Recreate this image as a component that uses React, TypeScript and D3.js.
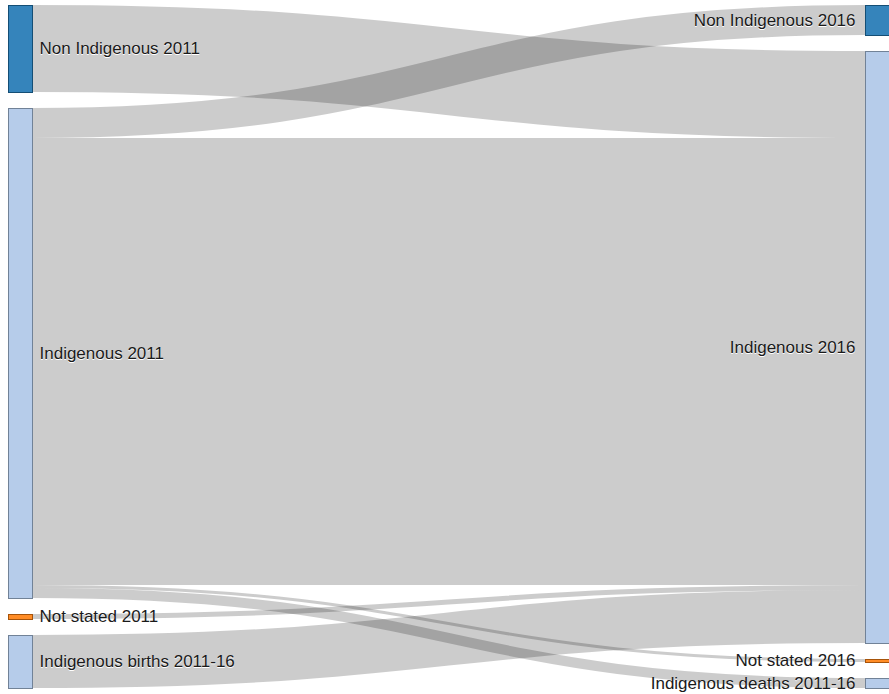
import React from "react";
import * as d3 from "d3";

const nodeNames = [
  "Non Indigenous 2011",
  "Indigenous 2011",
  "Not stated 2011",
  "Indigenous births 2011-16",
  "Non Indigenous 2016",
  "Indigenous 2016",
  "Not stated 2016",
  "Indigenous deaths 2011-16",
];
const nodeColumns = [0, 0, 0, 0, 1, 1, 1, 1];

const linkSources = [0, 1, 1, 1, 1, 2, 3];
const linkTargets = [5, 4, 5, 6, 7, 5, 5];
const linkValues = [87, 30, 447, 3, 10, 5, 53];

const category20 = [
  "#1f77b4", "#aec7e8", "#ff7f0e", "#ffbb78", "#2ca02c", "#98df8a",
  "#d62728", "#ff9896", "#9467bd", "#c5b0d5",
];

const W = 889;
const H = 694;
const NODE_W = 24;
const PAD = 16;
const X0 = 8;
const X1 = 889;
const Y0 = 5;
const Y1 = 688;

export default function App() {
  const color = d3.scaleOrdinal<string, string>(category20);
  const nodes = nodeNames.map((name, i) => ({
    name,
    i,
    col: nodeColumns[i],
    value: 0,
    x: 0,
    y: 0,
    dy: 0,
    src: [] as any[],
    tgt: [] as any[],
  }));
  const links = linkValues.map((v, i) => ({
    source: nodes[linkSources[i]],
    target: nodes[linkTargets[i]],
    value: v,
    sy: 0,
    ty: 0,
    dy: 0,
  }));
  links.forEach((l) => {
    l.source.src.push(l);
    l.target.tgt.push(l);
  });
  nodes.forEach((n) => {
    n.value = Math.max(
      d3.sum(n.src, (l: any) => l.value),
      d3.sum(n.tgt, (l: any) => l.value)
    );
  });
  const columns = d3.groups(nodes, (n) => n.col).map((g) => g[1]);
  const ky = d3.min(columns, (c) => (Y1 - Y0 - (c.length - 1) * PAD) / d3.sum(c, (n) => n.value)) as number;
  const vScale = d3.scaleLinear().domain([0, 1]).range([0, ky]);
  const xScale = d3.scaleLinear().domain([0, 1]).range([X0, X1 - NODE_W]);
  columns.forEach((c) => {
    let y = Y0;
    c.forEach((n) => {
      n.x = xScale(n.col);
      n.y = y;
      n.dy = vScale(n.value);
      y += n.dy + PAD;
    });
  });
  links.forEach((l) => (l.dy = vScale(l.value)));
  nodes.forEach((n) => {
    n.src.sort((a: any, b: any) => a.target.y - b.target.y);
    n.tgt.sort((a: any, b: any) => a.source.y - b.source.y);
    let sy = 0;
    n.src.forEach((l: any) => {
      l.sy = sy;
      sy += l.dy;
    });
    let ty = 0;
    n.tgt.forEach((l: any) => {
      l.ty = ty;
      ty += l.dy;
    });
  });
  nodes.forEach((n) => color(n.name.replace(/ .*/, "")));

  const linkGen = d3
    .linkHorizontal<any, [number, number]>()
    .source((l: any) => [l.source.x + NODE_W, l.source.y + l.sy + l.dy / 2])
    .target((l: any) => [l.target.x, l.target.y + l.ty + l.dy / 2]);

  const sortedLinks = links.slice().sort((a, b) => b.dy - a.dy);

  return (
    <svg
      width={W}
      height={H}
      style={{ position: "absolute", left: 0, top: 0 }}
      fontFamily="'Liberation Sans', Arial, sans-serif"
      fontSize={17}
    >
      <g>
        {sortedLinks.map((l, i) => (
          <path
            key={i}
            d={linkGen(l as any) as string}
            fill="none"
            stroke="#000"
            strokeOpacity={0.2}
            strokeWidth={Math.max(1, l.dy)}
          />
        ))}
      </g>
      <g>
        {nodes.map((n) => {
          const c = color(n.name.replace(/ .*/, ""));
          const left = n.col === 0;
          return (
            <g key={n.i} transform={`translate(${n.x},${n.y})`}>
              <rect
                width={NODE_W}
                height={n.dy}
                fill={c}
                fillOpacity={0.9}
                stroke={d3.rgb(c).darker(1.2).toString()}
                strokeWidth={1}
                shapeRendering="crispEdges"
              />
              <text
                x={left ? NODE_W + 7.5 : -9.5}
                y={n.dy / 2}
                dy=".35em"
                textAnchor={left ? "start" : "end"}
                fill="#1a1a1a"
                style={{ textShadow: "0 1px 0 #fff" }}
              >
                {n.name}
              </text>
            </g>
          );
        })}
      </g>
    </svg>
  );
}
